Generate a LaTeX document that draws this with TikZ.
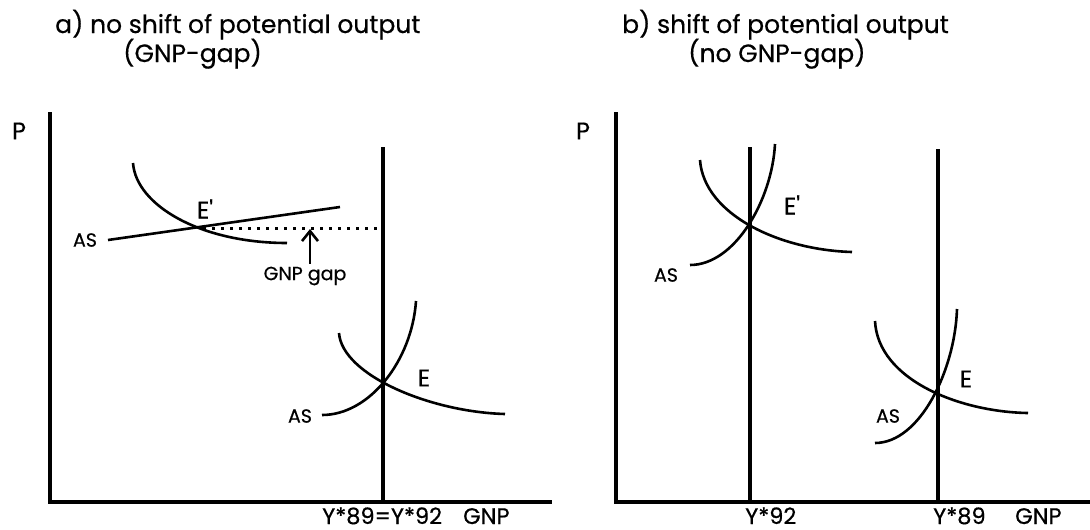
\documentclass[tikz,border=0pt]{standalone}
\usepackage{fontspec}
\setmainfont{Poppins}[FakeBold=0.5]
\usetikzlibrary{arrows.meta}
\begin{document}
\begin{tikzpicture}[x=1pt, y=-1pt,
    axis/.style={line width=4.6pt},
    potline/.style={line width=4.2pt},
    curve/.style={line width=2.6pt},
    title/.style={font=\fontsize{25}{29}\selectfont, anchor=base west, inner sep=0pt},
    lbl/.style={font=\fontsize{24}{28}\selectfont, inner sep=0pt},
    axlbl/.style={font=\fontsize{22.5}{26}\selectfont, anchor=base west, inner sep=0pt},
    small/.style={font=\fontsize{19}{22}\selectfont, inner sep=0pt}]
  \useasboundingbox (0,0) rectangle (1090,530);

  % ---- a) no shift of potential output ----
  \node[title] (ta1) at (55,33) {a) no shift of potential output};
  \node[title] (ta2) at (123,62) {(GNP-gap)};
  \coordinate (Oa) at (50,502);
  \coordinate (Ta) at (50,112);
  \coordinate (Xa) at (552,502);
  \draw[axis] (Ta) -- (Oa) -- (Xa);
  \node[lbl] (Pa) at (19,131) {P};
  % potential output line
  \draw[potline] (383,147) -- (383,502);
  % upper equilibrium E'
  \coordinate (Eqa) at (195,228);
  \draw[curve] (133,163) .. controls (136,205) and (200,243) .. (287,243);
  \draw[curve] (108,240) -- (340,207);
  \node[small] (ASa1) at (85,240) {AS};
  \node[lbl] (Epa) at (205,209) {E\textquotesingle};
  \coordinate (gapa) at (377,228);
  \draw[line width=3pt, dash pattern=on 3pt off 6pt] (Eqa) ++(8,0) -- (gapa);
  \node[small] (gap) at (305,276) {GNP gap};
  \coordinate (gaptip) at (310,229);
  \draw[line width=2.6pt, -{Straight Barb[length=10pt, width=16pt]}] (gap.north -| gaptip) ++(0,-3) -- (gaptip);
  % lower equilibrium E
  \draw[curve] (339,333) .. controls (342,375) and (430,412) .. (505,414);
  \draw[curve] (322,415) .. controls (370,415) and (412,360) .. (416,301);
  \node[small] (ASa2) at (300,416) {AS};
  \node[lbl] (Ea) at (424,378) {E};
  \node[axlbl] (Ya) at (322,524) {Y*89=Y*92};
  \node[axlbl] (GNPa) at (463,524) {GNP};

  % ---- b) shift of potential output ----
  \node[title] (tb1) at (622,33) {b) shift of potential output};
  \node[title] (tb2) at (688,62) {(no GNP-gap)};
  \coordinate (Ob) at (616,502);
  \coordinate (Tb) at (616,112);
  \coordinate (Xb) at (1095,502);
  \draw[axis] (Tb) -- (Ob) -- (Xb);
  \node[lbl] (Pb) at (583,131) {P};
  % potential output 92 and 89
  \draw[potline] (750,147) -- (750,502);
  \draw[potline] (938,149) -- (938,502);
  % upper equilibrium E'
  \draw[curve] (700,160) .. controls (704,215) and (780,250) .. (852,252);
  \draw[curve] (690,265) .. controls (735,265) and (772,200) .. (775,144);
  \node[small] (ASb1) at (666,275) {AS};
  \node[lbl] (Epb) at (792,205) {E\textquotesingle};
  % lower equilibrium E
  \draw[curve] (875,321) .. controls (878,380) and (960,412) .. (1028,413);
  \draw[curve] (875,443) .. controls (920,443) and (955,370) .. (957,309);
  \node[small] (ASb2) at (888,416) {AS};
  \node[lbl] (Eb) at (966,379) {E};
  \node[axlbl] (Y92) at (745,524) {Y*92};
  \node[axlbl] (Y89) at (933,524) {Y*89};
  \node[axlbl] (GNPb) at (1015,524) {GNP};
\end{tikzpicture}
\end{document}
